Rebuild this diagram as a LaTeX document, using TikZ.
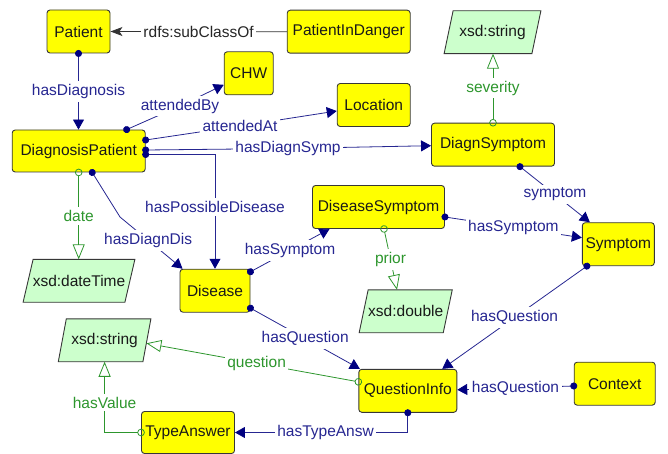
\documentclass[tikz,border=0pt]{standalone}
\usepackage{fontspec}
\setmainfont{Liberation Sans}
\usetikzlibrary{arrows.meta}
\pgfdeclarelayer{bg}
\pgfsetlayers{bg,main}
\definecolor{navyc}{RGB}{0,0,128}
\definecolor{objc}{RGB}{38,38,145}
\definecolor{datc}{RGB}{45,150,45}
\definecolor{clsfill}{RGB}{255,255,0}
\definecolor{dtfill}{RGB}{204,255,204}
\definecolor{bord}{RGB}{55,55,55}
% parallelogram outline behind a datatype node: #1 node name, #2 half slant
\newcommand\dtbox[2]{%
  \begin{pgfonlayer}{bg}
    \draw[dtshape] ([xshift=#2]#1.north west) -- ([xshift=#2]#1.north east)
      -- ([xshift=-#2]#1.south east) -- ([xshift=-#2]#1.south west) -- cycle;
  \end{pgfonlayer}}
\begin{document}
\begin{tikzpicture}[x=1pt,y=-1pt,
  font=\fontsize{15.5}{18}\selectfont,
  cls/.style={draw=bord, line width=0.9pt, fill=clsfill, rounded corners=3pt,
    inner sep=0pt, minimum height=43pt, text=black!90},
  dt/.style={inner sep=0pt, minimum height=42.5pt, text=black!90},
  dtshape/.style={draw=bord, line width=0.9pt, fill=dtfill},
  lbl/.style={fill=white, inner xsep=2.5pt, inner ysep=3pt},
  olbl/.style={lbl, text=objc},
  dlbl/.style={lbl, text=datc},
  obj/.style={draw=objc, line width=0.8pt,
    {Circle[length=7pt,color=navyc]}-{Triangle[length=10pt,width=11pt,color=navyc]},
    shorten <=-3.5pt},
  dat/.style={draw=datc, line width=0.8pt,
    {Circle[open,length=7.5pt]}-{Triangle[open,length=15pt,width=12pt]},
    shorten <=-3.75pt},
  sub/.style={draw=black!80, line width=0.8pt, -{Stealth[length=12pt,width=9pt,inset=3pt]}}
]
\useasboundingbox (0,0) rectangle (668,454);

% classes
\node[cls, minimum width=63pt]  (pat) at (78.5,31.5)  {Patient};
\node[cls, minimum width=123pt] (pid) at (348.7,31.7) {PatientInDanger};
\node[cls, minimum width=49pt]  (chw) at (248.7,73.3) {CHW};
\node[cls, minimum width=73pt]  (loc) at (373.7,105)  {Location};
\node[cls, minimum width=123pt] (dsy) at (493,144.7)  {DiagnSymptom};
\node[cls, minimum width=133pt, minimum height=42pt] (dp) at (78.7,151) {DiagnosisPatient};
\node[cls, minimum width=70pt]  (dis) at (215,290.7)  {Disease};
\node[cls, minimum width=132pt] (dss) at (378.5,207)  {DiseaseSymptom};
\node[cls, minimum width=72pt]  (sym) at (618.3,244.2) {Symptom};
\node[cls, minimum width=98pt]  (qi)  at (407.8,390.8) {QuestionInfo};
\node[cls, minimum width=81pt]  (ctx) at (614.7,383.7) {Context};
\node[cls, minimum width=93pt, minimum height=42pt] (ta) at (188,432.5) {TypeAnswer};

% datatypes
\node[dt, minimum width=87.4pt]  (s1)  at (492.5,32.2)  {xsd:string};
\node[dt, minimum width=101.4pt] (dtm) at (79,280.8)    {xsd:dateTime};
\node[dt, minimum width=83.7pt]  (dbl) at (405.7,311.3) {xsd:double};
\node[dt, minimum width=84.2pt]  (s2)  at (104.6,340.3) {xsd:string};
\dtbox{s1}{4.5pt}
\dtbox{dtm}{5pt}
\dtbox{dbl}{4.5pt}
\dtbox{s2}{4pt}

% subclass
\draw[sub] (pid.west) -- node[lbl, text=black!85] (l0) {rdfs:subClassOf} (pat.east);

% object properties
\draw[obj] (pat.south) -- node[olbl] (l1) {hasDiagnosis} (pat.south |- dp.north);
\draw[obj] ([xshift=-19pt]dp.north east) -- (180,106) node[olbl] (l2) {attendedBy}
  -- ([yshift=-11.5pt]chw.west);
\draw[obj] ([yshift=11pt]dp.east) -- (240,126) node[olbl] (l3) {attendedAt}
  -- ([yshift=-6pt]loc.west);
\draw[obj] ([yshift=1pt]dp.east) -- (288,148.5) node[olbl] (l4) {hasDiagnSymp}
  -- ([yshift=-1pt]dsy.west);
\draw[obj] ([yshift=-3.5pt]dp.east) -| node[olbl, pos=0.73] (l5) {hasPossibleDisease} (dis.north);
\draw[obj] ([xshift=13.5pt]dp.south) -- (120,217)
  -- node[olbl, pos=0.45] (l6) {hasDiagnDis} ([xshift=3pt]dis.north west);
\draw[obj] ([xshift=27pt]dsy.south) -- node[olbl] (l7) {symptom} ([xshift=8pt]sym.north west);
\draw[obj] ([yshift=-10pt]dss.east) -- node[olbl] (l8) {hasSymptom} ([yshift=6.5pt]sym.west);
\draw[obj] ([yshift=-3pt]dis.north east) -- node[olbl] (l9) {hasSymptom} ([xshift=17.5pt]dss.south west);
\draw[obj] ([yshift=4.5pt]dis.south east) -- node[olbl] (l10) {hasQuestion} ([xshift=1.5pt]qi.north west);
\draw[obj] ([xshift=5pt]sym.south west) -- node[olbl] (l11) {hasQuestion} ([xshift=-15pt]qi.north east);
\draw[obj] ([yshift=-2.3pt]ctx.west) -- node[olbl] (l12) {hasQuestion} ([yshift=1pt]qi.east);
\draw[obj] (qi.south) |- node[olbl, pos=0.738] (l13) {hasTypeAnsw} (ta.east);

% datatype properties
\draw[dat] (dp.south) -- node[dlbl] (l14) {date} (dp.south |- dtm.north);
\draw[dat] (dsy.north) -- node[dlbl] (l15) {severity} (dsy.north |- s1.south);
\draw[dat] ([xshift=5.5pt]dss.south) -- node[dlbl] (l16) {prior} ([xshift=-8.7pt]dbl.north);
\draw[dat] ([yshift=9pt]qi.west) -- node[dlbl, pos=0.48] (l17) {question} ([xshift=-0.5pt,yshift=-3pt]s2.east);
\draw[dat] (ta.west) -| node[dlbl, pos=0.71] (l18) {hasValue} (s2.south);
\end{tikzpicture}
\end{document}
